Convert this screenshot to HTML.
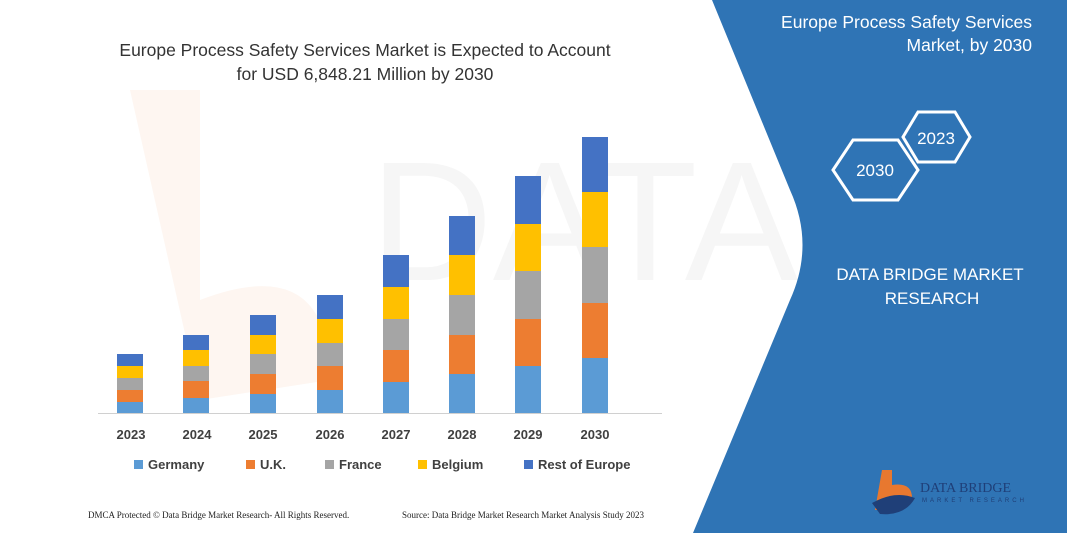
<!DOCTYPE html>
<html><head><meta charset="utf-8"><style>
body{margin:0;width:1067px;height:533px;overflow:hidden;background:#fff;font-family:"Liberation Sans",sans-serif}
</style></head><body>
<svg width="1067" height="533" xmlns="http://www.w3.org/2000/svg">
<rect width="1067" height="533" fill="#fff"/>
<text x="370" y="280" font-size="170" fill="#f6f6f6" font-family="Liberation Sans">DATA BRIDGE</text>
<path d="M130 90 L200 90 L200 300 Q330 250 330 380 L200 400 Z" fill="#fef6f1"/>
<path d="M712 0 L1067 0 L1067 533 L693 533 L790 300 Q815 245 790 190 Z" fill="#2f74b5"/>
<text x="1032" y="28" font-size="17.5" fill="#fff" text-anchor="end">Europe Process Safety Services</text>
<text x="1032" y="51" font-size="17.5" fill="#fff" text-anchor="end">Market, by 2030</text>
<polygon points="833,170 853,140 898,140 918,170 898,200 853,200" fill="none" stroke="#fff" stroke-width="3"/>
<text x="875" y="176" font-size="17" fill="#fff" text-anchor="middle">2030</text>
<polygon points="903,137 918,112 955,112 970,137 955,162 918,162" fill="none" stroke="#fff" stroke-width="3"/>
<text x="936" y="144" font-size="17" fill="#fff" text-anchor="middle">2023</text>
<text x="930" y="280" font-size="17" fill="#fff" text-anchor="middle">DATA BRIDGE MARKET</text>
<text x="932" y="304" font-size="17" fill="#fff" text-anchor="middle">RESEARCH</text>
<path d="M882 470 L892 470 L892 485 Q912 482 912 498 Q908 512 885 510 L875 510 Z" fill="#e8782f"/>
<path d="M872 503 Q895 490 915 498 Q905 516 880 514 Z" fill="#1f3f78"/>
<text x="920" y="492" font-size="14" fill="#1f3f78" font-family="Liberation Serif">DATA BRIDGE</text>
<text x="922" y="502" font-size="6" fill="#1f3f78" letter-spacing="3">MARKET RESEARCH</text>
<text x="365" y="56" font-size="17.5" fill="#333" text-anchor="middle">Europe Process Safety Services Market is Expected to Account</text>
<text x="365" y="80" font-size="17.5" fill="#333" text-anchor="middle">for USD 6,848.21 Million by 2030</text>
<line x1="98" y1="413.5" x2="662" y2="413.5" stroke="#d0d0d0" stroke-width="1"/>
<g>
<rect x="117" y="354" width="26" height="12" fill="#4472c4"/><rect x="117" y="366" width="26" height="12" fill="#ffc000"/><rect x="117" y="378" width="26" height="12" fill="#a5a5a5"/><rect x="117" y="390" width="26" height="12" fill="#ed7d31"/><rect x="117" y="402" width="26" height="11" fill="#5b9bd5"/>
<rect x="183" y="335" width="26" height="15" fill="#4472c4"/><rect x="183" y="350" width="26" height="16" fill="#ffc000"/><rect x="183" y="366" width="26" height="15" fill="#a5a5a5"/><rect x="183" y="381" width="26" height="17" fill="#ed7d31"/><rect x="183" y="398" width="26" height="15" fill="#5b9bd5"/>
<rect x="250" y="315" width="26" height="20" fill="#4472c4"/><rect x="250" y="335" width="26" height="19" fill="#ffc000"/><rect x="250" y="354" width="26" height="20" fill="#a5a5a5"/><rect x="250" y="374" width="26" height="20" fill="#ed7d31"/><rect x="250" y="394" width="26" height="19" fill="#5b9bd5"/>
<rect x="317" y="295" width="26" height="24" fill="#4472c4"/><rect x="317" y="319" width="26" height="24" fill="#ffc000"/><rect x="317" y="343" width="26" height="23" fill="#a5a5a5"/><rect x="317" y="366" width="26" height="24" fill="#ed7d31"/><rect x="317" y="390" width="26" height="23" fill="#5b9bd5"/>
<rect x="383" y="255" width="26" height="32" fill="#4472c4"/><rect x="383" y="287" width="26" height="32" fill="#ffc000"/><rect x="383" y="319" width="26" height="31" fill="#a5a5a5"/><rect x="383" y="350" width="26" height="32" fill="#ed7d31"/><rect x="383" y="382" width="26" height="31" fill="#5b9bd5"/>
<rect x="449" y="216" width="26" height="39" fill="#4472c4"/><rect x="449" y="255" width="26" height="40" fill="#ffc000"/><rect x="449" y="295" width="26" height="40" fill="#a5a5a5"/><rect x="449" y="335" width="26" height="39" fill="#ed7d31"/><rect x="449" y="374" width="26" height="39" fill="#5b9bd5"/>
<rect x="515" y="176" width="26" height="48" fill="#4472c4"/><rect x="515" y="224" width="26" height="47" fill="#ffc000"/><rect x="515" y="271" width="26" height="48" fill="#a5a5a5"/><rect x="515" y="319" width="26" height="47" fill="#ed7d31"/><rect x="515" y="366" width="26" height="47" fill="#5b9bd5"/>
<rect x="582" y="137" width="26" height="55" fill="#4472c4"/><rect x="582" y="192" width="26" height="55" fill="#ffc000"/><rect x="582" y="247" width="26" height="56" fill="#a5a5a5"/><rect x="582" y="303" width="26" height="55" fill="#ed7d31"/><rect x="582" y="358" width="26" height="55" fill="#5b9bd5"/>
</g>
<g font-size="13" font-weight="bold" fill="#404040" text-anchor="middle">
<text x="131" y="439">2023</text><text x="197" y="439">2024</text><text x="263" y="439">2025</text><text x="330" y="439">2026</text><text x="396" y="439">2027</text><text x="462" y="439">2028</text><text x="528" y="439">2029</text><text x="595" y="439">2030</text>
</g>
<g font-size="13" font-weight="bold" fill="#404040">
<rect x="134" y="460" width="9" height="9" fill="#5b9bd5"/><text x="148" y="469">Germany</text>
<rect x="246" y="460" width="9" height="9" fill="#ed7d31"/><text x="260" y="469">U.K.</text>
<rect x="325" y="460" width="9" height="9" fill="#a5a5a5"/><text x="339" y="469">France</text>
<rect x="418" y="460" width="9" height="9" fill="#ffc000"/><text x="432" y="469">Belgium</text>
<rect x="524" y="460" width="9" height="9" fill="#4472c4"/><text x="538" y="469">Rest of Europe</text>
</g>
<text x="88" y="518" font-size="9" fill="#222" font-family="Liberation Serif">DMCA Protected © Data Bridge Market Research- All Rights Reserved.</text>
<text x="402" y="518" font-size="9" fill="#222" font-family="Liberation Serif">Source: Data Bridge Market Research Market Analysis Study 2023</text>
</svg>
</body></html>
